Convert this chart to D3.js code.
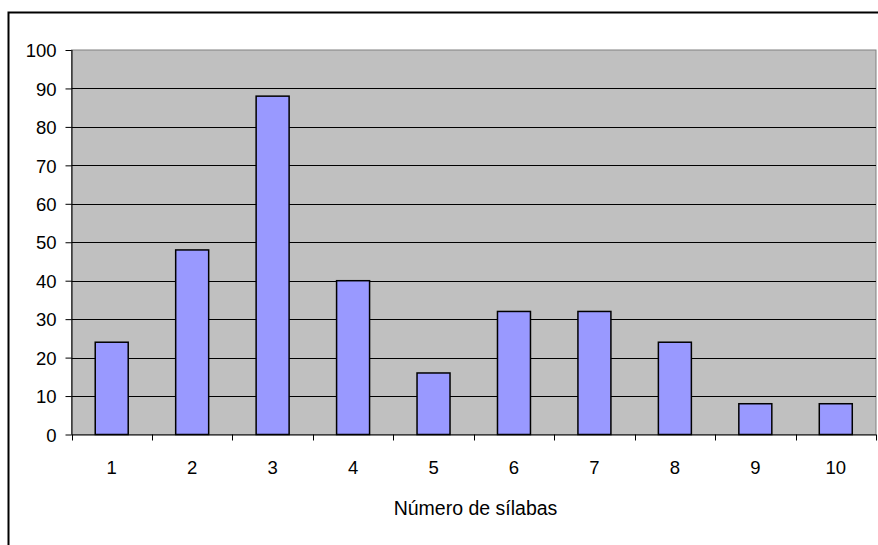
<!DOCTYPE html>
<html>
<head>
<meta charset="utf-8">
<script src="https://cdn.jsdelivr.net/npm/d3@7"></script>
<style>
  html, body { margin: 0; padding: 0; background: #fff; }
  svg { display: block; }
  text { font-family: "Liberation Sans", Arial, sans-serif; fill: #000; }
</style>
</head>
<body>
<svg id="chart" width="878" height="545"></svg>
<script>
// Syllable counts per word length
const categories = ["1", "2", "3", "4", "5", "6", "7", "8", "9", "10"];
const values = [24, 48, 88, 40, 16, 32, 32, 24, 8, 8];
const yTicks = [0, 10, 20, 30, 40, 50, 60, 70, 80, 90, 100];
const xTitle = "Número de sílabas";

const svg = d3.select("#chart");
const W = 878, H = 545;
const plot = { left: 71.5, top: 50, right: 876, bottom: 434.5 };
const tickFont = 18.5;
const titleFont = 19.5;

// outer frame (extends past the right and bottom edges)
svg.append("rect")
  .attr("x", 8.5).attr("y", 12.5)
  .attr("width", W + 10).attr("height", H + 10)
  .attr("fill", "#fff").attr("stroke", "#000").attr("stroke-width", 2);

const x = d3.scaleBand().domain(categories)
  .range([plot.left, plot.right]).paddingInner(0.59).paddingOuter(0.295);
const xOuter = d3.scaleBand().domain(categories).range([plot.left, plot.right]);
const y = d3.scaleLinear().domain([0, 100]).range([plot.bottom, plot.top]);

// plot background
svg.append("rect")
  .attr("x", plot.left).attr("y", plot.top)
  .attr("width", plot.right - plot.left).attr("height", plot.bottom - plot.top)
  .attr("fill", "#c0c0c0").attr("stroke", "#808080").attr("stroke-width", 1);

// horizontal gridlines
svg.append("g").selectAll("line")
  .data(yTicks.filter(d => d > 0 && d < 100))
  .join("line")
  .attr("x1", plot.left).attr("x2", plot.right)
  .attr("y1", d => Math.round(y(d)) + 0.5).attr("y2", d => Math.round(y(d)) + 0.5)
  .attr("stroke", "#000").attr("stroke-width", 1);

// bars
svg.append("g").selectAll("rect")
  .data(values)
  .join("rect")
  .attr("x", (d, i) => x(categories[i]))
  .attr("y", d => y(d))
  .attr("width", x.bandwidth())
  .attr("height", d => y(0) - y(d))
  .attr("fill", "#9999ff").attr("stroke", "#000").attr("stroke-width", 1.5);

// y axis
const yAxis = svg.append("g")
  .attr("transform", `translate(${plot.left},0)`)
  .call(d3.axisLeft(y).tickValues(yTicks).tickSize(6).tickPadding(9).tickFormat(d3.format("d")));
yAxis.select(".domain").attr("stroke", "#000").attr("d", `M0.5,${plot.top}V${plot.bottom}`);
yAxis.selectAll(".tick line").attr("stroke", "#000");
yAxis.selectAll("text")
  .attr("font-size", tickFont)
  .attr("dy", "0.36em")
  .style("font-family", "'Liberation Sans', Arial, sans-serif");

// x axis: ticks at category boundaries
const xAxisG = svg.append("g").attr("transform", `translate(0,${plot.bottom})`);
xAxisG.append("line")
  .attr("x1", plot.left).attr("x2", plot.right)
  .attr("y1", 0.5).attr("y2", 0.5).attr("stroke", "#000");
const bounds = categories.map(c => xOuter(c)).concat([plot.right]);
xAxisG.selectAll("line.tk")
  .data(bounds)
  .join("line").attr("class", "tk")
  .attr("x1", d => Math.round(d) + 0.5).attr("x2", d => Math.round(d) + 0.5)
  .attr("y1", 0).attr("y2", 6).attr("stroke", "#000");
xAxisG.selectAll("text")
  .data(categories)
  .join("text")
  .attr("x", d => xOuter(d) + xOuter.bandwidth() / 2)
  .attr("y", 39)
  .attr("text-anchor", "middle")
  .attr("font-size", tickFont)
  .text(d => d);

// axis title
svg.append("text")
  .attr("x", 475.5)
  .attr("y", 515)
  .attr("text-anchor", "middle")
  .attr("font-size", titleFont)
  .text(xTitle);
</script>
</body>
</html>
